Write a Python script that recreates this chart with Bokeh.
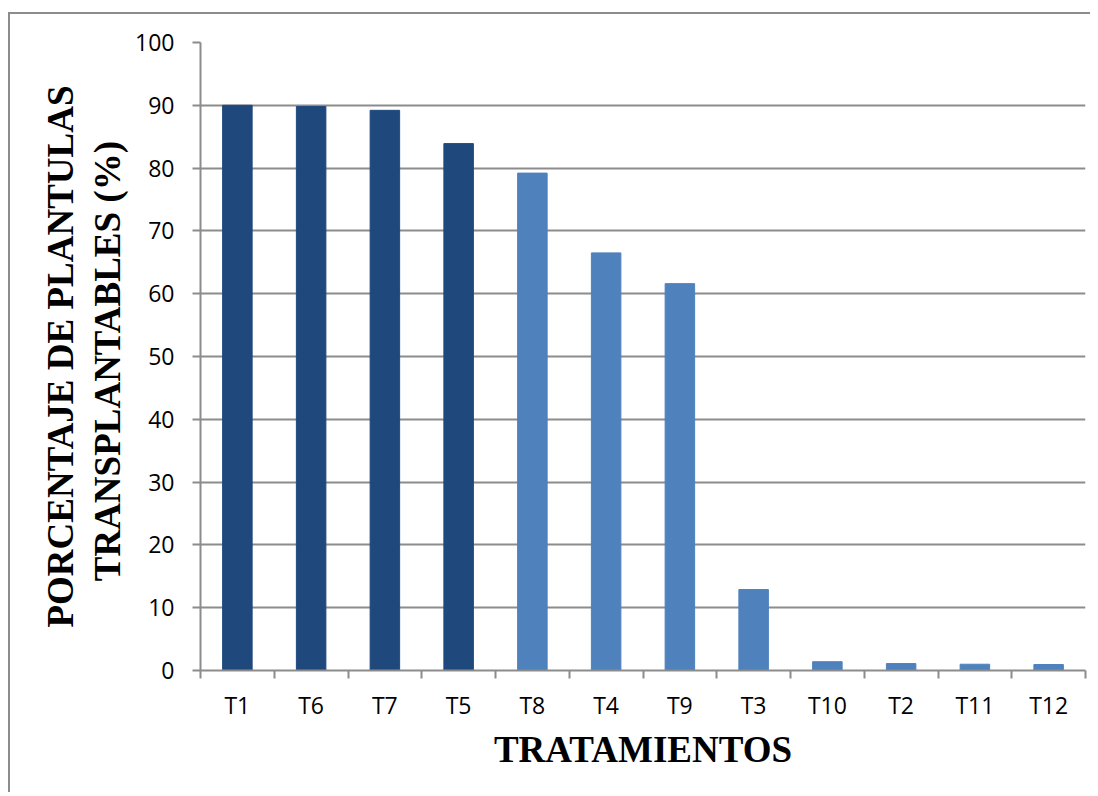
import numpy as np
from bokeh.plotting import figure
from bokeh.models import FixedTicker, Range1d, ColumnDataSource, Title
from bokeh.embed import file_html
from bokeh.resources import INLINE

categories = ["T1", "T6", "T7", "T5", "T8", "T4", "T9", "T3", "T10", "T2", "T11", "T12"]
values = [90.0, 89.8, 89.2, 83.9, 79.2, 66.5, 61.6, 12.9, 1.4, 1.1, 1.0, 0.95]
group = ["dark", "dark", "dark", "dark", "light", "light", "light", "light", "light", "light", "light", "light"]
group_colors = {"dark": "#1F497D", "light": "#4F81BD"}
y_ticks = [0, 10, 20, 30, 40, 50, 60, 70, 80, 90, 100]
y_title_lines = ["PORCENTAJE DE PLANTULAS", "TRANSPLANTABLES  (%)"]
x_title = "TRATAMIENTOS"

n = len(categories)
xpos = [i + 0.5 for i in range(n)]
src = ColumnDataSource(dict(x=xpos, top=values, cat=categories,
                            color=[group_colors[g] for g in group]))

p = figure(width=1082, height=780, output_backend="svg", toolbar_location=None,
           x_range=Range1d(0, n), y_range=Range1d(0, 100),
           min_border_left=190, min_border_right=7, min_border_top=28, min_border_bottom=124)
p.margin = (12, 0, 0, 8)
p.styles = {"border-left": "2px solid #8c8c8c", "border-top": "2px solid #8c8c8c"}

p.vbar(x="x", top="top", width=0.4, color="color", source=src)

grid_col = "#8c8c8c"
p.outline_line_color = None
p.xgrid.visible = False
p.ygrid.ticker = FixedTicker(ticks=y_ticks)
p.ygrid.grid_line_color = grid_col
p.ygrid.grid_line_width = 2

# x axis
xa = p.xaxis[0]
xa.ticker = FixedTicker(ticks=xpos, minor_ticks=list(range(n + 1)))
xa.major_label_overrides = {x: c for x, c in zip(xpos, categories)}
xa.major_tick_line_color = None
xa.minor_tick_line_color = grid_col
xa.minor_tick_line_width = 2
xa.minor_tick_in = 0
xa.minor_tick_out = 8
xa.major_label_standoff = 10
xa.axis_line_color = grid_col
xa.axis_line_width = 2
xa.major_label_text_font = "Open Sans"
xa.major_label_text_font_size = "23px"
xa.major_label_text_color = "black"
xa.axis_label = x_title
xa.axis_label_text_font = "Liberation Serif"
xa.axis_label_text_font_style = "bold"
xa.axis_label_text_font_size = "37px"
xa.axis_label_text_color = "black"
xa.axis_label_standoff = 5

# y axis
ya = p.yaxis[0]
ya.ticker = FixedTicker(ticks=y_ticks)
ya.minor_tick_line_color = None
ya.major_tick_line_color = grid_col
ya.major_tick_line_width = 2
ya.major_tick_in = 0
ya.major_tick_out = 8
ya.major_label_standoff = 18
ya.axis_line_color = grid_col
ya.axis_line_width = 2
ya.major_label_text_font = "Open Sans"
ya.major_label_text_font_size = "23px"
ya.major_label_text_color = "black"

# two-line y title, inner line first (closest to axis)
for txt, so in zip(reversed(y_title_lines), [9, 0]):
    p.add_layout(Title(text=txt, align="center", standoff=so,
                       text_font="Liberation Serif", text_font_style="bold",
                       text_font_size="37px", text_color="black"), "left")

open("out.html", "w").write(file_html(p, INLINE))
